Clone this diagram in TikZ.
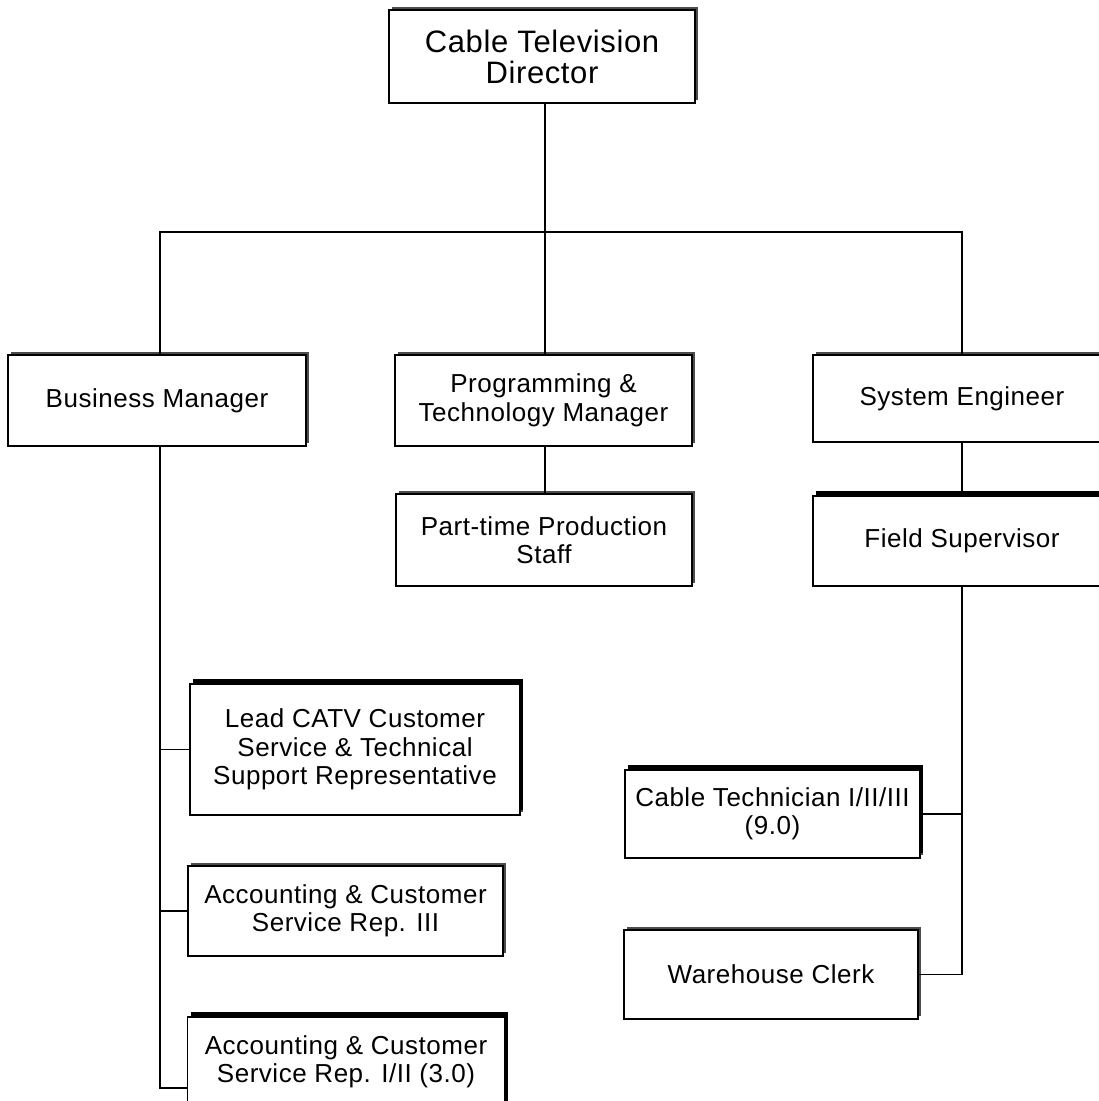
\documentclass[tikz,border=0pt]{standalone}
\usepackage{fontspec}
\setmainfont{Liberation Sans}[LetterSpace=2]
\usetikzlibrary{shadows}
\begin{document}
\begin{tikzpicture}[x=1pt,y=-1pt,
  card/.style={draw=black, line width=1.3pt, fill=white, align=center, inner sep=0pt,
    general shadow={fill=black!70, shadow xshift=3pt, shadow yshift=3pt},
    font=\fontsize{26}{28.5}\selectfont},
  heavy/.style={general shadow={fill=black, shadow xshift=3pt, shadow yshift=5pt}},
  link/.style={line width=1.2pt}]
\useasboundingbox (0,0) rectangle (1099,1101);
\clip (0,0) rectangle (1099,1101);

% boxes
\node[card, minimum width=306, minimum height=93, font=\fontsize{31}{31}\selectfont]
  (dir) at (542,56.5) {Cable Television\\Director};
\node[card, minimum width=298, minimum height=91] (bm) at (157,400.5) {Business Manager};
\node[card, minimum width=297, minimum height=91] (pm) at (543.5,400.5) {Programming \&\\Technology Manager};
\node[card, minimum width=298, minimum height=87] (se) at (962,398.5) {System Engineer};
\node[card, minimum width=296, minimum height=92] (pt) at (544,540) {Part-time Production\\Staff};
\node[card, heavy, minimum width=298, minimum height=90] (fs) at (962,541) {Field Supervisor};
\node[card, heavy, minimum width=330, minimum height=131] (lead) at (355,749.5)
  {Lead CATV Customer\\Service \& Technical\\Support Representative};
\node[card, minimum width=315, minimum height=90] (a3) at (345.5,911) {Accounting \& Customer\\Service Rep. III};
\node[card, heavy, minimum width=317, minimum height=90] (a2) at (346,1062) {Accounting \& Customer\\Service Rep. I/II (3.0)};
\node[card, heavy, minimum width=295, minimum height=88] (ct) at (772.5,814) {Cable Technician I/II/III\\(9.0)};
\node[card, minimum width=294, minimum height=89] (wh) at (771,974.5) {Warehouse Clerk};

% trunk positions
\coordinate (hub) at (545,232);
\coordinate (lt) at (160,0);
\coordinate (rt) at (962,0);

% connectors
\draw[link] (hub |- dir.south) -- (hub);
\draw[link] (lt |- bm.north) |- (hub) -| (rt |- se.north);
\draw[link] (hub) -- (hub |- pm.north);
\draw[link] (hub |- pm.south) -- (hub |- pt.north);
\draw[link] (rt |- se.south) -- (rt |- fs.north);
\draw[link] (lt |- bm.south) |- ([yshift=-26pt]a2.west);
\draw[link] (lt |- lead.west) -- (lead.west);
\draw[link] (lt |- a3.west) -- (a3.west);
\draw[link] (rt |- fs.south) |- (wh.east);
\draw[link] (rt |- ct.east) -- (ct.east);
\end{tikzpicture}
\end{document}
